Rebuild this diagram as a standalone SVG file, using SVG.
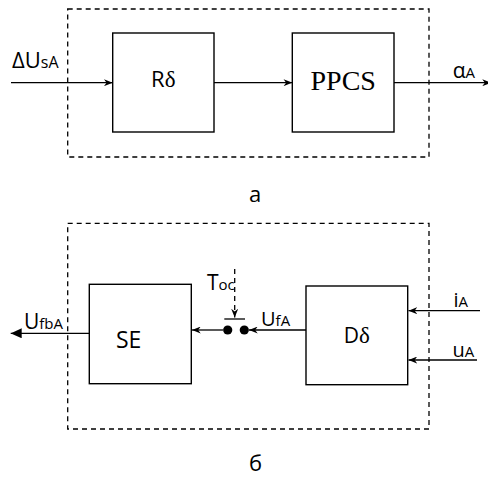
<svg xmlns="http://www.w3.org/2000/svg" width="488" height="477" viewBox="0 0 488 477">
<style>
.dash{fill:none;stroke:#000;stroke-width:1.3;stroke-dasharray:5,4}
.box{fill:#fff;stroke:#000;stroke-width:1.4}
.ln{fill:none;stroke:#000;stroke-width:1.3}
.t{font-family:"Open Sans","DejaVu Sans",sans-serif;fill:#000}
.serif{font-family:"Liberation Serif","Times New Roman",serif;fill:#000}
</style>
<defs>
<marker id="arr" viewBox="0 0 10 8" markerWidth="9" markerHeight="7" refX="10" refY="4" orient="auto" markerUnits="userSpaceOnUse">
<path d="M0,0 L10,4 L0,8 L3,4 z" fill="#000"/>
</marker>
<marker id="big" viewBox="0 0 10 9" markerWidth="11" markerHeight="10" refX="10" refY="4.5" orient="auto" markerUnits="userSpaceOnUse">
<path d="M0,0 L10,4.5 L0,9 z" fill="#000"/>
</marker>
</defs>
<rect class="dash" x="67.7" y="9" width="361.3" height="148"/>
<rect class="dash" x="67.7" y="223.3" width="361.3" height="205.7"/>
<g id="connectors">
<line class="ln" x1="11" y1="82.7" x2="112.7" y2="82.7" marker-end="url(#arr)"/>
<line class="ln" x1="214" y1="82.7" x2="292.3" y2="82.7" marker-end="url(#arr)"/>
<line class="ln" x1="394" y1="82.7" x2="491" y2="82.7" marker-end="url(#arr)"/>
<line class="ln" x1="89.3" y1="333.3" x2="10.7" y2="333.3" marker-end="url(#big)"/>
<line class="ln" x1="223" y1="330" x2="192" y2="330" marker-end="url(#arr)"/>
<line class="ln" x1="306" y1="330" x2="249" y2="330" marker-end="url(#arr)"/>
<line class="ln" x1="480" y1="310.7" x2="408.5" y2="310.7" marker-end="url(#arr)"/>
<line class="ln" x1="477" y1="360" x2="408.5" y2="360" marker-end="url(#arr)"/>
<line class="ln" x1="234.7" y1="269" x2="234.7" y2="317.5" stroke-dasharray="5,4" marker-end="url(#arr)"/>
</g>
<g id="switch">
<line class="ln" x1="224.3" y1="319" x2="245" y2="319" stroke-width="1.6"/>
<circle cx="227.7" cy="330" r="4.6" fill="#000"/>
<circle cx="244.3" cy="330" r="4.6" fill="#000"/>
</g>
<g id="node-R">
<rect class="box" x="112.7" y="33" width="101.3" height="99"/>
<text class="t" x="163.3" y="86.7" font-size="22" text-anchor="middle">R<tspan font-family="Liberation Serif, serif" font-size="23">δ</tspan></text>
</g>
<g id="node-PPCS">
<rect class="box" x="292.3" y="33" width="101.7" height="99"/>
<text class="serif" x="343.2" y="90" font-size="28" text-anchor="middle">PPCS</text>
</g>
<g id="node-SE">
<rect class="box" x="89.3" y="284.3" width="102" height="99.4"/>
<text class="t" x="116" y="347.7" font-size="23">SE</text>
</g>
<g id="node-D">
<rect class="box" x="306" y="286" width="101.7" height="98.7"/>
<text class="t" x="356.7" y="343.3" font-size="21" text-anchor="middle">D<tspan font-family="Liberation Serif, serif" font-size="23">δ</tspan></text>
</g>
<g id="labels">
<text class="t" x="12" y="68.3" font-size="22">ΔU<tspan font-size="16">sA</tspan></text>
<text class="t" x="452.7" y="78.3" font-size="21">α<tspan font-size="15">A</tspan></text>
<text class="t" x="249" y="202.3" font-size="22">а</text>
<text class="t" x="24" y="329.3" font-size="21">U<tspan font-size="15">fbA</tspan></text>
<text class="t" x="207" y="290" font-size="21">T<tspan font-size="15">oc</tspan></text>
<text class="t" x="261" y="325.7" font-size="20">U<tspan font-size="15">fA</tspan></text>
<text class="t" x="453.5" y="306.7" font-size="20">i<tspan font-size="15">A</tspan></text>
<text class="t" x="452.5" y="356.7" font-size="20">u<tspan font-size="15">A</tspan></text>
<text class="t" x="249" y="471" font-size="22">б</text>
</g>
</svg>
